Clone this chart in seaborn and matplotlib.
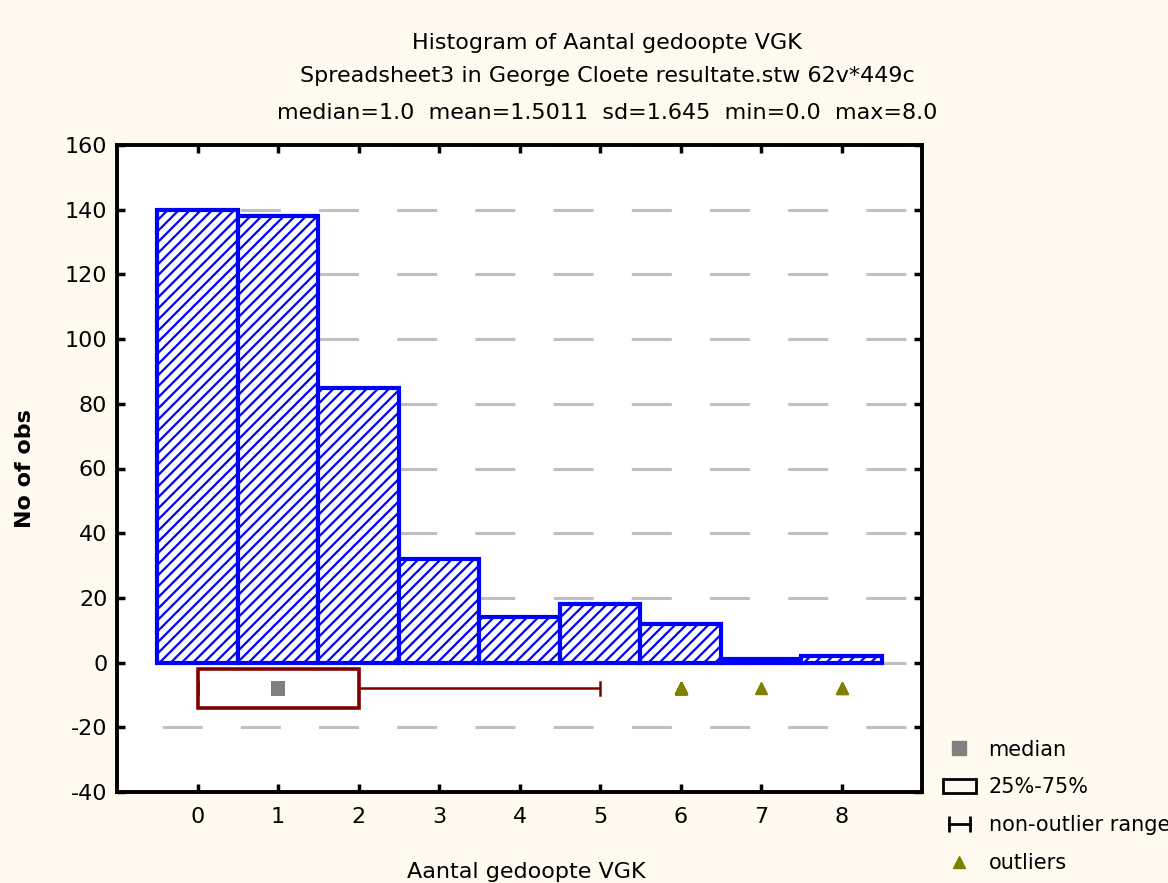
import numpy as np
import matplotlib
matplotlib.use("Agg")
import matplotlib.pyplot as plt
import seaborn as sns
from matplotlib.lines import Line2D
from matplotlib.patches import Rectangle
from matplotlib.legend_handler import HandlerLine2D

# values
gedoopte = [0, 1, 2, 3, 4, 5, 6, 7, 8]
n_obs = [140, 138, 85, 32, 14, 18, 12, 1, 2]
y_ticks = [-40, -20, 0, 20, 40, 60, 80, 100, 120, 140, 160]

title_lines = [
    "Histogram of Aantal gedoopte VGK",
    "Spreadsheet3 in George Cloete resultate.stw 62v*449c",
    "median=1.0  mean=1.5011  sd=1.645  min=0.0  max=8.0",
]

BLUE = "#0000ff"
BOX_RED = "#800000"
OLIVE = "#808000"
BOX_ROW = -8      # vertical position of the box plot strip
BOX_HEIGHT = 12
FS = 16

plt.rcParams["font.family"] = ["DejaVu Sans"]
plt.rcParams["font.size"] = FS
plt.rcParams["axes.unicode_minus"] = False
plt.rcParams["hatch.linewidth"] = 1.6
plt.rcParams["hatch.color"] = BLUE

fig = plt.figure(figsize=(11.68, 8.83), dpi=100, facecolor="#fffaf0")
ax = fig.add_axes([117 / 1168, 1 - 792 / 883, 805 / 1168, 647 / 883])
ax.set_facecolor("white")

# histogram from the counts
sns.histplot(x=gedoopte, weights=n_obs, discrete=True, ax=ax,
             color="white", edgecolor=BLUE, linewidth=3, alpha=1,
             hatch="///", zorder=3)
for p in ax.patches:
    p.set_facecolor("white")
    p.set_edgecolor(BLUE)

# box plot strip below zero
raw = np.repeat(gedoopte, n_obs)
sns.boxplot(x=raw, y=np.full(len(raw), BOX_ROW, dtype=float), orient="h",
            native_scale=True, width=BOX_HEIGHT, ax=ax, color="white",
            linecolor=BOX_RED, linewidth=2.6, whis=1.5,
            medianprops=dict(linewidth=0),
            whiskerprops=dict(color=BOX_RED, linewidth=1.8),
            capprops=dict(color=BOX_RED, linewidth=1.8),
            flierprops=dict(marker="^", markerfacecolor=OLIVE,
                            markeredgecolor=OLIVE, markersize=9))
# shorten the whisker caps
for ln in ax.lines:
    y = np.asarray(ln.get_ydata(), dtype=float)
    x = np.asarray(ln.get_xdata(), dtype=float)
    if len(x) == 2 and x[0] == x[1] and y[0] != y[1]:
        mid = y.mean()
        ln.set_ydata(mid + (y - mid) * 0.7)
sns.scatterplot(x=[np.median(raw)], y=[BOX_ROW], marker="s", color="#808080",
                s=110, edgecolor="none", ax=ax, zorder=5)

ax.set_xlim(-1, 9)
ax.set_ylim(-40, 160)
ax.set_xticks(gedoopte)
ax.set_yticks(y_ticks)

ax.set_axisbelow(True)
GRID_LW = 2.2
ax.yaxis.grid(True, color="#c0c0c0", linewidth=GRID_LW,
              linestyle=(23.8 / GRID_LW, (28.8 / GRID_LW, 27.5 / GRID_LW)))
ax.xaxis.grid(False)

for s in ax.spines.values():
    s.set_linewidth(2.8)
    s.set_color("black")
    s.set_zorder(6)
ax.tick_params(direction="in", length=6, width=2.5, top=True, right=True,
               labelsize=FS, colors="black")
ax.tick_params(axis="y", pad=7)
ax.tick_params(axis="x", pad=11)

ax.set_xlabel("Aantal gedoopte VGK", fontsize=FS)
ax.set_ylabel("No of obs", fontsize=FS, fontweight="bold")
ax.xaxis.set_label_coords(0.509, -0.108)
ax.yaxis.set_label_coords(-0.102, 0.5)

for i, line in enumerate(title_lines):
    fig.text(0.52, 1 - [43, 76, 113][i] / 883, line, ha="center", va="center",
             fontsize=FS)

handles = [
    Line2D([], [], marker="s", color="#808080", linestyle="", markersize=10),
    Rectangle((0, 0), 1, 1, facecolor="none", edgecolor="black", linewidth=2),
    Line2D([], [], marker="|", color="black", linewidth=2, markersize=12,
           markeredgewidth=2),
    Line2D([], [], marker="^", color=OLIVE, linestyle="", markersize=9),
]
labels = ["median", "25%-75%", "non-outlier range", "outliers"]
fig.legend(handles, labels, loc="upper left",
           bbox_to_anchor=(924 / 1168, 1 - 721 / 883), frameon=False,
           fontsize=15, labelspacing=0.85, handlelength=1.6,
           handletextpad=0.6, borderpad=0.4,
           handler_map={handles[2]: HandlerLine2D(numpoints=2)})

fig.savefig("out.png", dpi=100, facecolor=fig.get_facecolor())
